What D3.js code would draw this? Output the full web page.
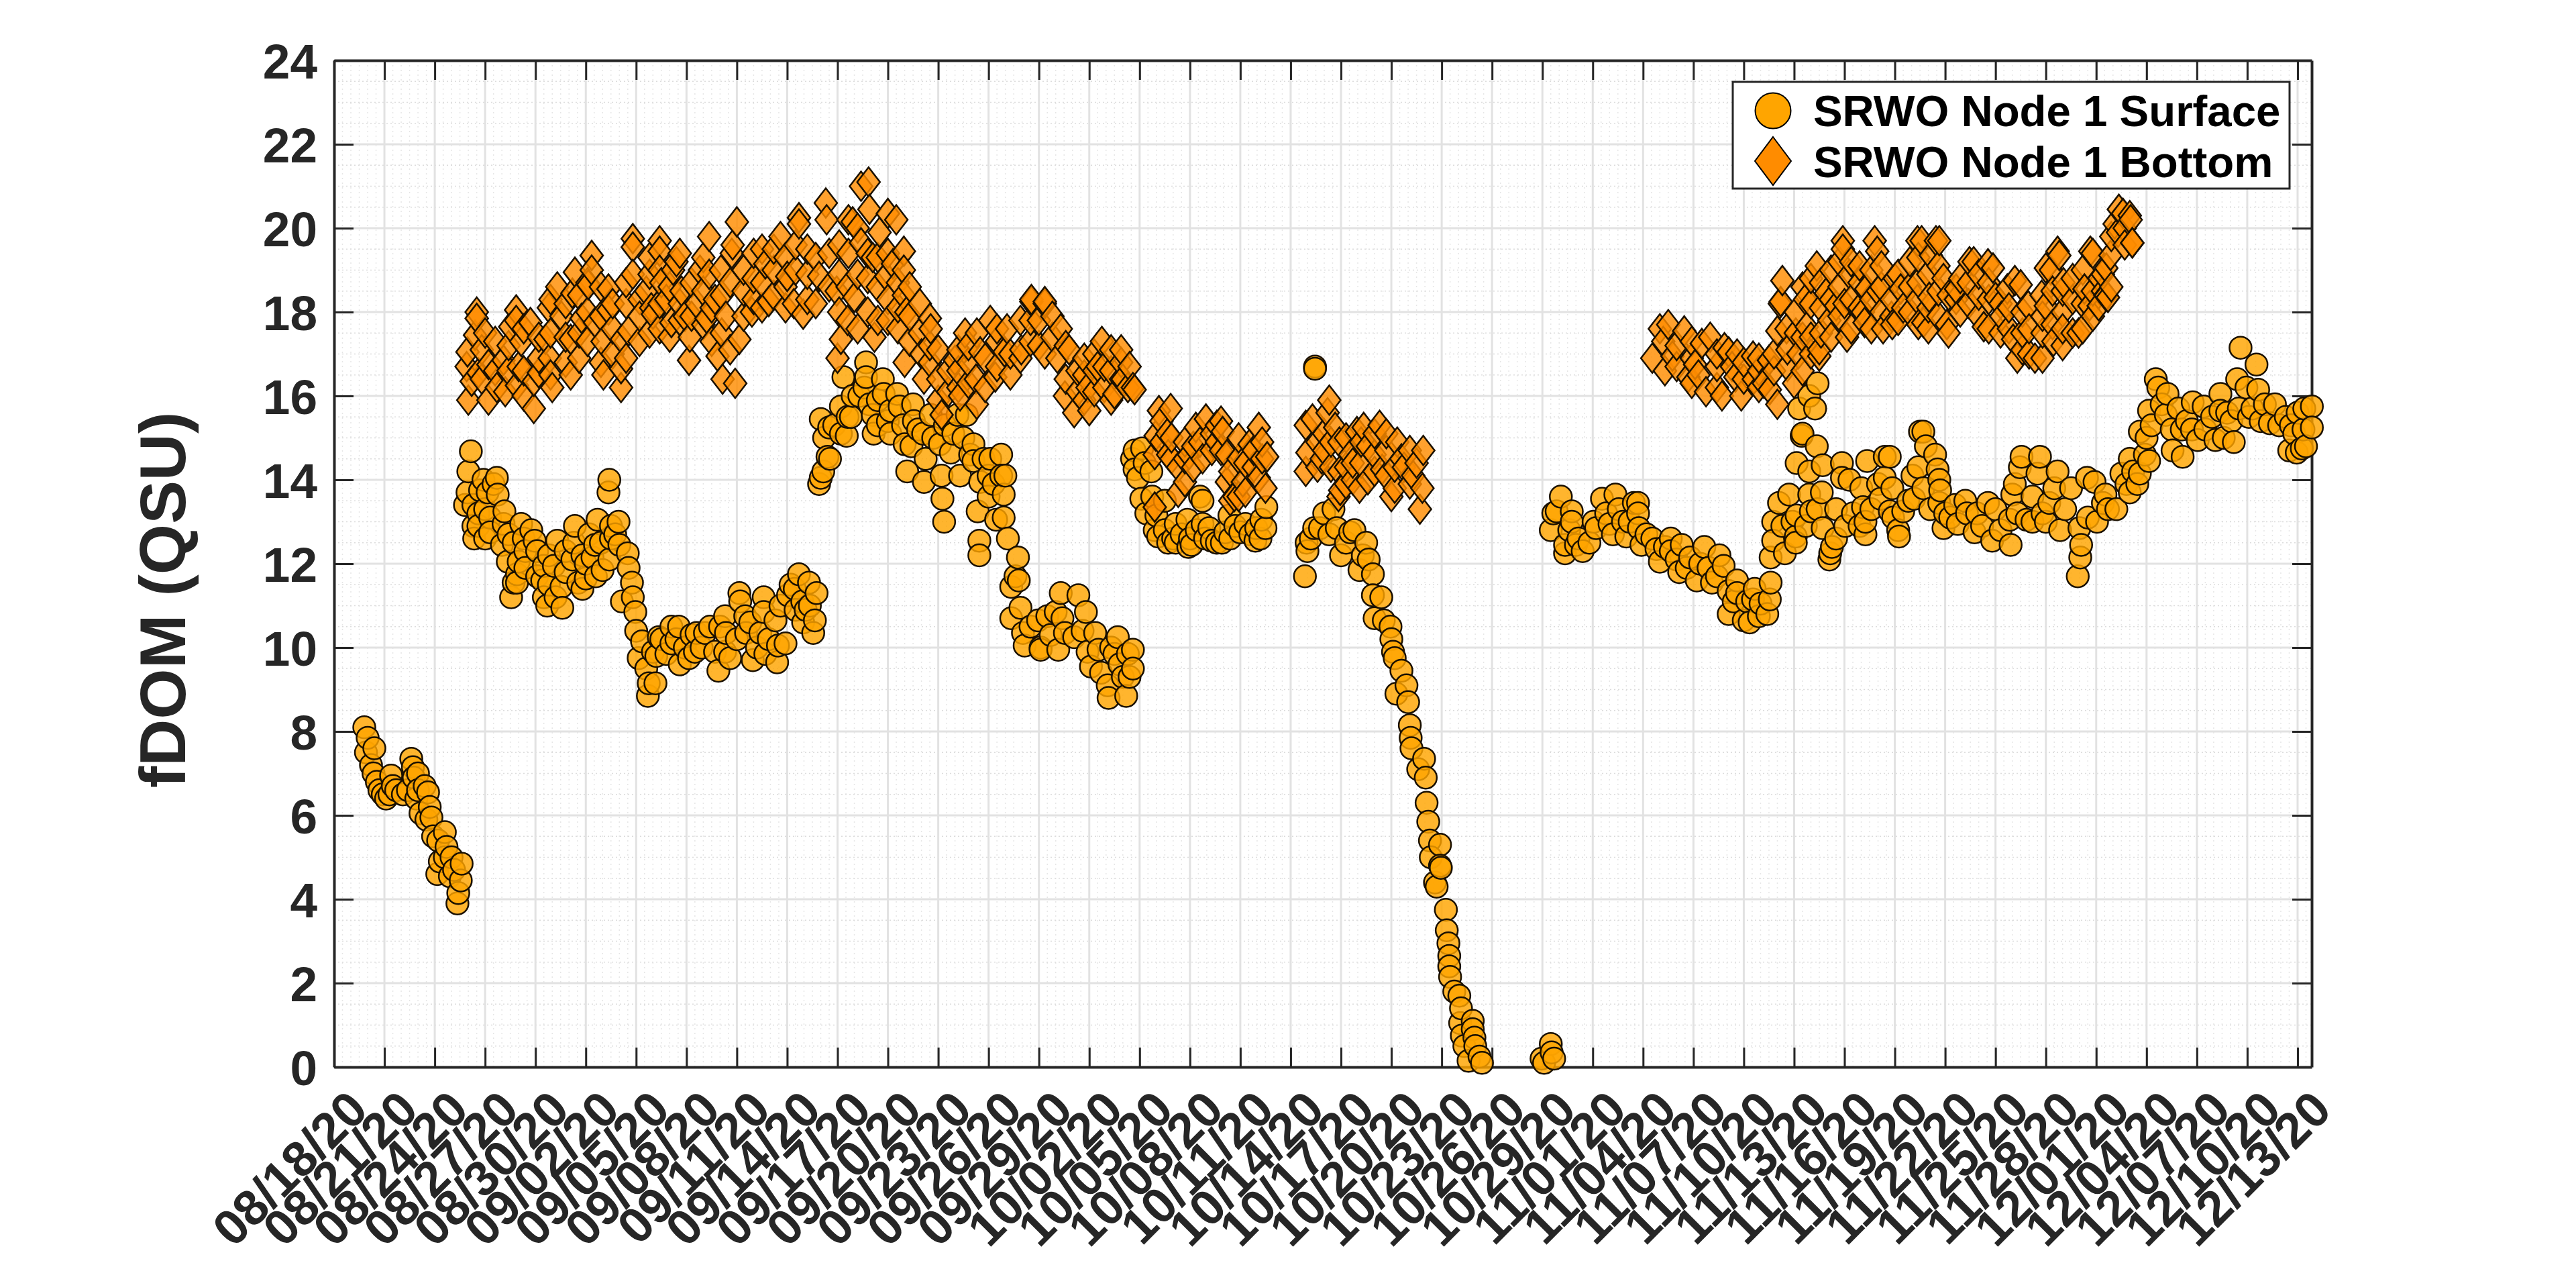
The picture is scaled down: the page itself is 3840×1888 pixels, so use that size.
<!DOCTYPE html>
<html>
<head>
<meta charset="utf-8">
<script src="https://cdn.jsdelivr.net/npm/d3@7"></script>
<style>
  html, body { margin: 0; padding: 0; background: #fff; }
  svg { display: block; }
  text { font-family: "Liberation Sans", Arial, sans-serif; font-weight: bold; }
</style>
</head>
<body>
<svg id="chart" width="3840" height="1888"></svg>
<script>
// x tick labels, one every 3 days starting at 08/18/20
const tick_labels = ["08/18/20","08/21/20","08/24/20","08/27/20","08/30/20","09/02/20","09/05/20","09/08/20",
  "09/11/20","09/14/20","09/17/20","09/20/20","09/23/20","09/26/20","09/29/20","10/02/20","10/05/20","10/08/20",
  "10/11/20","10/14/20","10/17/20","10/20/20","10/23/20","10/26/20","10/29/20","11/01/20","11/04/20","11/07/20",
  "11/10/20","11/13/20","11/16/20","11/19/20","11/22/20","11/25/20","11/28/20","12/01/20","12/04/20","12/07/20",
  "12/10/20","12/13/20"];
const y_ticks = [0,2,4,6,8,10,12,14,16,18,20,22,24];
const series_names = ["SRWO Node 1 Surface", "SRWO Node 1 Bottom"];

// [days since 08/18/20, fDOM]
const surface = [
  [1.8,8.1],[2,7.85],[2.4,7.6],[1.9,7.5],[2.2,7.2],[2.35,7],[2.55,6.8],[2.7,6.6],[3.1,6.4],[3.4,6.95],[3.5,6.7],[4.1,6.5],
  [4.6,7.35],[4.7,7.15],[4.75,6.9],[4.9,6.4],[5.15,6.05],[5.6,6.55],[5.7,6.2],[5.8,5.95],[5.9,5.5],[6.6,5.6],[6.7,5.25],
  [6.6,5],[6.15,4.6],[6.9,4.55],[7.6,4.85],[7.55,4.45],[7.4,4.15],[7.35,3.9],
  [2.9,6.5],[3.3,6.5],[3.7,6.6],[4.4,6.6],[5,7],[5,6.6],[5.4,6.7],[5.5,5.9],[6.2,5.4],[6.3,4.9],[7,5],[7.15,4.7],
  [8.15,14.68],[8,14.2],[7.95,13.7],[7.8,13.4],[8.3,13.4],[8.3,12.9],[8.35,12.6],[8.9,14],[8.7,13.75],[9,12.6],[9.15,13.7],
  [9,13.3],[9.7,14.05],[9.75,13.65],[10.15,13.25],[10.1,12.95],[10,12.45],[10.35,12.05],[11,12.05],[11.15,12.95],[11.3,12.6],
  [10.9,11.75],[10.9,11.55],[10.55,11.2],[11.75,12.8],[11.95,12.55],[12.1,12.3],[12.5,11.95],[12.4,11.6],[12.5,11.2],[12.7,11],
  [13.6,10.95],[13.3,12.55],[13.1,11.95],[13.55,11.45],[14.35,12.9],[14.3,12.5],[14.2,12.1],[14.55,11.55],[15,11.65],[15.7,13.05],
  [15.55,12.45],[15.4,12.15],[15,12],[16.4,14],[16.35,13.7],[16,11.85],[16.95,13],[16.75,12.7],[17,12.45],[16.4,12.1],[17.5,12.25],
  [17.55,11.9],[17.15,11.1],[17.75,11.55],[17.8,11.2],[17.95,10.85],[18,10.4],[18.35,10.15],[18.15,9.75],[18.6,9.5],[18.75,9.15],
  [18.7,8.85],[19.15,9.15],[19.35,10.25],[19.2,9.8],[19.8,9.85],[20.55,10.5],[20.4,10.2],[20.6,9.6],[21.15,9.75],[21.6,10.35],
  [8.6,13.2],[8.6,12.9],[9.3,13.1],[9.3,12.75],[9.5,13.9],[10.4,12.7],[10.7,11.55],[10.7,12.5],[11.4,12.3],[11.4,11.9],[12.1,11.7],
  [12.8,11.5],[12.8,12.2],[13.2,11.2],[13.8,11.8],[13.8,12.3],[14.8,12.2],[14.8,11.4],[15.2,12.7],[15.6,11.7],[15.9,12.5],[16.5,12.6],[16.5,12.9],
  [19,9.9],[19.5,10.2],[20.1,10.1],[20.1,10.5],[20.9,10],[21.3,10.3],[22.7,9.9],[23.6,9.75],[24,10.2],[24.8,10.6],[25.9,10.2],[26.9,10.1],
  [27.5,10.9],[27.9,11.1],[28.1,10.9],
  [21.9,10],[21.5,9.9],[22.1,10.35],[22.4,10.5],[22.9,9.45],[23.3,9.9],[23,10.5],[23.35,10.35],[23.3,10.75],[24.15,11.3],[24.2,11.1],
  [24.5,10.75],[24.55,10.35],[24.95,9.7],[25.2,10],[25.6,11.2],[25.6,10.85],[25.4,10.35],[25.7,9.85],[26.4,9.65],[26.45,10.05],
  [26.3,10.65],[26.6,11],[27.2,11.5],[27.05,11.25],[27.7,11.75],[27.45,11.4],[28.3,11.55],[28.75,11.3],[28.35,11],[28.65,10.65],
  [28.55,10.35],[27.95,10.6],
  [29,14.05],[28.9,13.9],[29.15,14.2],[29.2,15],[29,15.45],[29.4,14.55],[29.55,14.5],[29.5,15.25],[30.2,15.1],[30.55,15.05],[30.6,15.5],
  [30.2,15.75],[30.35,16.45],[30.9,16],[31.7,16.8],[31.7,16.45],[31.6,16.2],[32.1,15.55],[32.15,15.1],[32.7,16.4],[32.75,16.05],
  [33.15,15.65],[33.15,15.1],[33.55,16.05],[33.7,15.75],[34,14.85],[34.15,14.2],[34.5,15.8],[34.55,15.4],[35.1,15.1],[35.25,14.5],
  [35.15,13.95],[35.55,15.55],[36.2,14.1],[36.25,13.55],[36.35,13],[36.1,14.85],[36.75,14.65],[37.15,15.55],[37.7,15.55],[38.1,14.85],
  [37.3,14.1],[38.1,14.45],[38.5,13.95],[38.35,13.25],[38.45,12.55],[38.45,12.2],[39,14.1],[39.75,14.6],[39.75,14.1],[39.9,13.65],
  [39,13.6],[39.9,13.1],[39.45,13.05],[40.15,12.6],[40.75,12.15],[40.6,11.7],[40.8,11.6],[40.35,11.45],[40.9,10.95],[40.35,10.7],
  [41.05,10.35],[41.15,10.05],[41.95,10.65],[42.1,10],[43.3,11.3],[43,10.85],[42.5,10.75],[42.1,9.95],[43.15,9.95],[43.55,10.35],
  [44.35,11.25],[44.8,10.85],[44.1,10.25],[45.1,9.55],[45.35,10.35],[45.55,9.95],[46.1,9.1],[46.15,8.8],[46.7,10.25],[46.5,9.85],
  [47,9.3],[47.2,8.85],[47.6,9.95],[47.6,9.5],[47.3,9.85],
  [29.8,15.3],[30.8,15.5],[31.3,16],[31.9,15.8],[32.4,15.3],[32.4,15.9],[33,15.4],[33.9,15.3],[34.4,14.8],[34.8,15.2],[35.7,15],[36.4,15.3],
  [36.9,15.1],[37.5,15],[37.9,14.6],[38.7,14.5],[39.3,13.9],[39.1,14.5],[40,14.1],[41.5,10.5],[42.7,10.3],[43.4,10.7],[44.6,10.4],[44.9,9.9],
  [45.7,9.4],[46.3,10],[46.8,9.6],[47.4,9.3],
  [47.7,14.7],[47.55,14.5],[47.7,14.25],[48.15,14.75],[48.3,14.4],[48.7,14.2],[48.1,13.55],[47.9,14.05],[48.75,13.6],[49.1,12.65],
  [49,13.15],[49.5,13.5],[50,12.6],[50.15,12.5],[50.15,12.95],[51,12.6],[51.1,12.45],[51.6,13.6],[51.75,13.5],[50.85,13.05],[51.75,12.95],
  [52.3,12.55],[52.9,12.5],[52.15,12.85],[53.1,12.75],[53.35,13.15],[54,12.75],[54.3,12.95],[54.9,12.55],[54.95,12.85],[55.5,12.85],
  [55.55,13.35],[55.25,13.05],
  [48.4,13.2],[48.9,12.8],[49.5,12.8],[49.7,12.5],[50.5,12.7],[50.9,12.4],[51.4,12.8],[51.9,12.6],[52.6,12.5],[53.4,12.6],[53.7,12.9],[54.6,12.7],[55.2,12.6],
  [57.85,11.7],[57.95,12.5],[58,12.3],[58.4,12.85],[58.45,16.7],[58.45,16.65],[58.75,12.85],[59,13.2],[59.55,13.3],[59.75,12.85],[60,12.2],
  [60.55,12.75],[60.8,12.8],[61.1,11.85],[61.5,12.5],[61.65,12.1],[61.9,11.75],[61.9,11.25],[62.4,11.2],[62,10.7],[62.55,10.65],
  [58.2,12.6],[59.3,12.7],[60.3,12.5],[61.3,12.2],
  [62.95,10.5],[63,10.2],[63.1,9.9],[63.2,9.75],[63.6,9.45],[63.9,9.1],[63.3,8.9],[64,8.7],[64.1,8.15],[64.15,7.85],[64.2,7.6],[64.95,7.35],
  [64.6,7.1],[65.05,6.9],[65.1,6.3],[65.2,5.85],[65.3,5.4],[65.9,5.3],[65.35,5],[65.9,4.8],[65.95,4.75],[65.6,4.4],[65.7,4.3],
  [66.25,3.75],[66.3,3.26],[66.4,2.95],[66.45,2.65],[66.45,2.4],[66.5,2.15],[66.75,1.8],[67.05,1.7],[67.15,1.4],[67.1,1.05],[67.85,1.1],
  [67.85,0.9],[67.2,0.75],[67.35,0.5],[67.95,0.7],[68,0.5],[67.6,0.15],[68.25,0.25],[68.4,0.1],
  [72.1,0.1],[71.95,0.2],[72.5,0.55],[72.55,0.35],[72.7,0.2],
  [73.1,13.6],[72.85,13.25],[72.5,12.8],[72.65,13.2],[73.35,12.25],[73.35,12.45],[73.75,13.25],[73.75,13],[74,12.45],[74.15,12.6],
  [74.8,12.5],[75.05,13],[75.55,13.55],[75.2,12.85],[76,12.95],[76.35,13.65],[76.55,13.3],[77,12.65],[77.45,13.45],[77.7,13.45],
  [77.7,13.2],[77.75,12.85],[77.9,12.45],[78.55,12.6],[79,12.05],[79.65,12.6],[79.65,12.3],[80.15,11.8],[80.3,12.45],[81.2,11.6],
  [80.8,12.15],[81.65,12.4],[81.9,11.9],[82.1,11.55],[82.55,12.2],[82.8,11.95],[83.1,11.35],[83.1,10.8],[83.6,11.6],[83.6,11.3],[84,10.65],
  [84.65,11.4],[84.55,11.15],[84.35,10.6],[85.6,11.55],[85.55,11.15],[85.4,10.8],[84.9,10.75],[85.6,12.15],[85.75,13],[85.75,12.55],
  [73.6,12.8],[74.4,12.3],[75.8,13.2],[76.2,12.7],[76.8,13],[77.2,13],[78.2,12.7],[78.8,12.35],[79.3,12.4],[80,12.1],[80.6,11.9],[81.4,12],
  [82.4,11.7],[83.4,11.1],[84.2,11.1],[85,11.05],
  [86.1,13.45],[86.7,13.65],[87.15,13.15],[87.1,12.65],[86.45,12.25],[87.1,12.5],[87.5,15.1],[87.45,15.05],[88.35,14.8],[87.15,14.4],
  [87.9,14.2],[88.7,14.35],[87.9,13.65],[88.65,13.7],[88,13.25],[89.1,12.1],[89.25,12.4],[88.7,12.85],[89.15,12.25],[89.85,14.4],
  [89.85,14.05],[90.05,12.9],[89.5,13.3],[90.3,14],[91.25,12.7],[91.1,13.35],[91.25,13],[91.35,14.45],[92.4,14.55],[92.4,14.05],
  [92.15,13.55],[92.7,13.25],[91,13.8],[87.3,15.7],[88.25,15.7],[87.9,16],[88.4,16.3],
  [92.7,14.55],[93.2,12.8],[93.25,12.65],[92.85,13.8],[93.5,13.25],[94.05,14.1],[94.15,13.55],[94.5,15.15],[94.7,15.15],[94.85,14.8],
  [95.4,14.6],[95.55,14.25],[95.65,14],[94.7,13.8],[95.7,13.75],[95.65,13.45],[95.9,12.85],[96.75,12.95],[97.2,13.5],[97.3,13.2],
  [97.75,12.75],[98.55,13.45],[98.8,12.55],[99,13.3],[99.85,13.05],[99.9,12.45],[100,13.65],[100.55,14.55],[100.45,14.3],[100.15,13.9],
  [100.85,13.05],[101.65,14.55],[101.5,14.15],[101.8,13.2],[102.7,14.2],[102.5,13.8],[102.2,13.45],[103.15,13.3],[102.85,12.8],
  [104.1,12.45],[104.05,12.15],[103.9,11.7],[104,12.85],[105.05,13],[104.45,14.05],[104.9,13.95],[105.4,13.45],[105.55,13.65],
  [86.3,12.9],[86.9,13],[87.7,12.9],[88.4,13.3],[89.5,12.6],[90.5,13.2],[90.9,12.9],[91.6,13.3],[92,13.9],[92.9,13.1],[93.8,13.5],[94.4,14.3],
  [95.1,13.3],[96.3,13.1],[96,13.2],[96.6,13.4],[97.9,13.2],[98.2,12.9],[99.3,12.8],[100.3,13.2],[101.2,13.6],[101.2,13],[102,13],[103.5,13.8],
  [104.5,13.1],[105.7,13.3],[106.2,13.3],[106.8,13.9],[107.2,14.2],[107.9,14.6],[108.3,15.3],[108.9,15.8],[109.5,15.2],[109.9,15.7],[110.4,15.4],
  [110.7,15.2],[111.5,15.2],[111.9,15.5],[112.6,15],[112.8,15.6],[113.5,15.7],[114.3,15.7],[114.8,15.4],[115.9,15.3],[116.6,15.3],[117,15.6],
  [107,13.7],[106.5,14.15],[107.45,13.9],[107.6,14.15],[107,14.5],[108.15,14.45],[108,15],[107.6,15.15],[108.15,15.65],[108.55,16.4],
  [108.7,16.2],[109.25,16.05],[109.15,15.55],[110.1,15.2],[109.55,14.7],[110.15,14.55],[110.75,15.85],[111.4,15.75],[111.05,14.95],
  [112.1,14.95],[112.4,16.05],[112.4,15.65],[113.2,14.9],[113.05,15.4],[113.6,17.15],[113.4,16.4],[114.55,16.75],[114.65,16.15],
  [113.95,16.2],[114.1,15.5],[115.05,15.8],[115.65,15.8],[115.35,15.35],[116.3,15.5],[116.95,14.65],[116.8,15.1],[116.5,14.7],
  [117.4,15.7],[117.35,15.2],[117.25,14.75],[117.85,15.75],[117.85,15.25],[117.5,14.8]
];

const bottom = [
  [8.5,18],[8.5,17.85],[8.4,17.45],[9,17.5],[7.95,17.05],[7.9,16.7],[8,15.9],[8.2,16.35],[9.2,15.9],[8.6,16.55],[9.2,16.75],[9.7,16.2],
  [10.1,16.85],[10.85,18.05],[10.85,17.8],[10.5,17.65],[11.7,17.75],[11.15,17.3],[11,16.7],[10.9,16.25],[10.2,16.1],[11.9,15.7],
  [11.9,16.35],[12.2,16.55],[13,16.2],[12.85,16.9],[12.6,17.35],[14.1,16.5],[14.1,17.35],[12.8,18.1],[13.3,18.6],[14.2,18.45],
  [13.55,17.9],[14.35,18.95],[15.35,19.35],[15.35,19],[15.15,18.65],[14.75,17.85],[16.35,18.55],[15.55,17.75],[16,17.3],[16.05,16.5],
  [17.1,16.2],[17.1,16.65],[17.15,17.35],[16.35,18.05],[17.55,17.55],[17.8,19.75],[17.8,19.55],[17.8,18.9],[18.6,18.5],[19.4,19.7],
  [19.4,19.45],[19,17.95],[20.2,19],[20.1,17.75],[21.15,16.85],[21.2,17.4],[20.4,19.2],[18.2,18.3],[18.9,18.1],[19.8,18.3],[20.7,18.5],
  [21.6,18.2],[21.8,19],[22.7,18.3],[19.5,18.7],[20.9,17.9],
  [8.8,16.4],[8.8,17.1],[9.6,16.6],[9.6,17.3],[10.4,16.6],[10.4,17.2],[11.3,16],[11.3,16.6],[11.3,17.6],[12.2,16.9],[12.2,17.4],[12.9,16.5],[12.9,17.5],[12.9,18.3],
  [13.8,16.8],[13.8,17.4],[13.8,18.2],[14.6,16.9],[14.6,17.5],[14.6,18.4],[15.1,17.3],[15.1,18],[15.1,18.7],[15.9,16.8],[15.9,17.9],[15.9,18.6],[16.6,17],[16.6,17.6],
  [16.6,18.2],[17.4,16.9],[17.4,18.2],[17.4,18.7],[18.2,17.3],[18.2,17.9],[18.8,17.5],[18.8,18.9],[18.8,19.3],[19.4,17.6],[19.4,18.2],[19.4,19],[20,17.4],[20,18.6],
  [20.6,17.8],[20.6,18.2],[20.6,19.4],[21.3,17.9],[21.3,18.7],[22,17.7],[22,18.5],[22,19.3],[22.5,17.3],[22.5,18.1],[23.1,17.5],[23.1,18.4],[23.6,17.1],[23.6,18.7],
  [24.4,17.9],[24.4,18.5],[24.4,19],[25,18.3],[25,18.8],[25,19.4],[25.5,18.1],[25.5,18.7],[25.5,19.5],[26.2,18.4],[26.2,19],[26.2,19.5],[26.9,18.1],[26.9,18.6],
  [27.5,19],[27.5,19.6],[28.2,18.3],[28.2,18.9],[28.7,18.2],[28.7,19.3],[29.5,18.6],[29.5,19.4],[30.1,18],[30.1,18.9],[30.1,19.6],[30.6,17.8],[30.6,18.6],
  [31.2,17.6],[31.2,18.9],[31.2,20],[31.8,18],[31.8,18.8],[31.8,19.4],[32.4,17.8],[32.4,18.6],[32.4,19.3],[33,18.3],[33,19.4],[33.6,17.6],[33.6,18.1],[33.6,18.7],
  [34.3,17.3],[34.3,17.9],[34.3,18.6],[34.9,17.5],[34.9,18.2],[35.5,16.8],[35.5,17.2],[36,15.9],[36,16.4],[36,17.1],[36.6,16.1],[36.6,16.6],[37.2,16.2],[37.2,16.6],
  [37.2,17.1],[37.8,16.3],[37.8,16.8],[37.8,17.2],[38.3,15.8],[38.3,17.5],[38.8,16.2],[38.8,16.9],[39.5,16.7],[39.5,17.3],[39.5,17.6],[40.3,16.5],[40.3,17],
  [40.9,16.9],[40.9,17.8],[41.5,17.3],[41.5,17.8],[42,17.2],[42,17.8],[42.8,17.4],[42.8,17.9],[43.1,16.9],[43.6,16.4],[43.6,17.2],[44.3,16.1],[44.3,16.6],
  [44.7,15.9],[44.7,16.5],[44.7,16.9],[45.3,16.1],[45.3,16.6],[45.3,17],[45.9,16.2],[45.9,16.7],[46.3,15.9],[46.3,16.6],[46.3,17.1],[46.9,16.4],[46.9,16.8],[47.3,16.2],
  [22.35,19.8],[24,20.15],[23.75,19.6],[23.7,19.4],[23.05,19],[22.35,18.9],[23.35,17.9],[22.2,17.85],[22.85,16.95],[23.15,16.4],[23.9,16.3],
  [24.15,17.35],[24.9,18],[25.9,18.25],[25.7,19.15],[26.6,19.8],[27,18.85],[27.7,20.25],[27.7,20.1],[26.9,19.3],[27.4,18.2],[27.95,17.95],
  [29.3,20.6],[29.35,20.2],[28.2,19.5],[28.9,18.85],[29.95,18.5],[30.65,20.2],[30.9,20.15],[31.85,21.1],[31.4,21],[31.9,20.45],[33,20.35],
  [33.5,20.2],[31.4,19.65],[30.65,19.4],[32.5,19.9],[33.95,19.45],[33.95,19],[33.3,19.15],[32.1,19.3],[32.9,18.85],[31,18.35],[30.2,17.35],
  [30,16.9],[32.2,17.4],[33,17.8],[33.95,18.4],[34.1,18],[35.5,17.85],[35.55,17.6],[34,16.8],[35,17],[35.15,16.4],[37.6,17.5],[37,16.85],
  [36.2,15.55],[39.1,17.8],[38.5,17.05],[38.25,16.4],[37.3,16],[40.1,17.6],[39.95,17.05],[39.4,16.45],[41.55,18.25],[40.95,17.1],[42.35,18.2],[42.35,17],
  [42.35,18.25],[41.55,18.3],[43.3,17.6],[43.8,17.1],[43.55,16],[44.1,15.6],[45,15.65],[44.9,16.2],[45.75,17.3],[45.5,16.7],[46.5,16.05],
  [46.9,17.1],[47.4,16.7],[47.7,16.15],[47,16.4],[47.6,16.2],
  [49.85,15.7],[49.15,15.65],[49.65,15.1],[48.95,15.05],[49.7,14.6],[50.7,13.95],[48.9,13.35],[50.3,13.7],[51.35,15.25],[51.95,15.45],
  [52.85,15.4],[52.95,15.15],[50.95,14.6],[51.75,14.5],[52.85,14.7],[55.1,15.25],[54.55,14.85],[55.6,14.55],[53.65,13.6],[53.2,13.95],
  [54.15,13.95],[55.1,14.05],
  [48.9,14.6],[49.3,14.9],[49.3,15.4],[49.9,14.5],[49.9,15],[50.3,14.3],[50.7,14.5],[50.7,14.9],[51.2,14.3],[51.2,14.8],[51.6,14.9],[52.3,14.7],[52.3,15.1],[52.6,14.9],
  [52.6,15.3],[53.2,14.6],[53.4,13.5],[53.4,14.2],[53.9,13.6],[53.9,14.5],[53.9,15],[54.3,13.7],[54.3,14.4],[54.8,14.3],[54.8,14.7],[55.3,14.5],[55.3,14.9],[55.5,13.8],
  [57.9,15.3],[58,14.65],[57.9,14.2],[58.3,15.45],[59.3,15.9],[59.2,15.6],[59.65,15.25],[58.85,14.5],[59.95,13.75],[59.85,13.6],[60.55,14.6],
  [60.95,15.15],[61.35,15.25],[61.1,13.8],[62.3,15.3],[62.45,14.25],[63,13.6],[63.35,14.9],[64.9,14.7],[63.75,14.3],[64.85,13.8],[64.7,13.3],[64.3,14.1],
  [58.6,14.9],[58.6,14.3],[59,15.1],[59,14.7],[59.4,14.3],[59.4,14.9],[59.9,14.2],[59.9,14.9],[60.3,13.9],[60.3,14.3],[60.3,15],[60.7,14],[60.7,14.4],[61.2,14.4],[61.2,14.9],
  [61.6,14],[61.6,14.8],[62,14.2],[62,14.6],[62,15.1],[62.7,14.1],[62.7,14.7],[62.7,15.1],[63.2,13.8],[63.2,14.3],[63.6,14.5],[64.1,14.7],[64.1,13.9],[64.5,14.4],
  [78.55,16.9],[79,17.6],[79.5,17.7],[79.2,17.3],[79.75,16.95],[80.45,17.55],[80.7,16.45],[81.5,17.25],[82,17.4],[81.1,16.75],[81.75,16.1],
  [82.7,16],[82.85,17.15],[83.1,17.05],[83.6,17],[83.5,16.45],[83.85,16],[84.55,16.95],[84.6,16.4],[85.5,16.85],[86,15.8],[85.55,16.15],
  [79.3,16.6],[80,16.7],[80,17.2],[80.9,16.3],[80.9,16.9],[80.9,17.3],[81.3,16.5],[82.4,16.2],[82.4,16.7],[82.4,17],[83.3,16.7],[84,16.4],[84,16.8],[84.9,16.2],[84.9,16.6],
  [84.9,16.9],[85.2,16.3],[85.8,16.6],[85.8,17],
  [86.15,18.2],[86,17.55],[86.55,17.6],[87,16.3],[87.25,17],[88.5,16.95],[88.5,17.1],[87.65,18.3],[87.75,17.65],[89.1,17.8],[90.15,17.4],
  [89.5,18.15],[91.1,18],[91.2,17.75],[92.3,17.6],
  [86.3,18.75],[86.2,18.25],[88.35,19.1],[89.9,19.7],[89.9,19.5],[91.8,19.7],[91.95,19.45],[94.6,19.7],[95.65,19.7],[95.15,19.35],[97.7,19.2],
  [98.85,19.05],[100.5,18.65],[102.8,19.35],[102.3,19],[104.8,19.4],[106.6,20.35],[107,20.3],[107.15,19.65],[106.1,20.1],[105.7,18.35],
  [105.6,19.05],[90.3,18.9],[91.3,18.55],[88.9,18.45],[93.35,18.55],[94.35,18.3],[96.65,18.3],[95.9,18.8],[99,18.35],[99.7,18.55],[101.75,18.4],
  [103.05,18.7],[104.3,18.55],[105.2,18.8],[105.6,18.4],
  [94.35,19.7],[95.45,19.7],[97.45,19.2],[98.55,19.15],[100.15,18.75],[102.7,19.45],[102,19.05],[104.65,19.45],[106.35,20.45],[107.05,20.2],
  [107.15,19.65],[105.55,18.4],[105.15,18.15],[103.95,17.5],[102.45,17.3],[101.35,16.9],[100.3,16.9],[100.05,17.35],[98.3,17.65],[96.1,17.7],
  [94.7,17.75],[92.85,17.7],[95.05,18.35],[96.65,18.55],[99.35,17.9],[100.95,18.15],[103,18],[104.6,18.15],[105.85,19.35],[102,18.15],
  [93,18.8],[93.5,18.1],[92,18.5],[90,18.2],
  [86.6,16.7],[86.6,17.1],[87.1,17.5],[87.1,18],[87.5,16.6],[87.5,17.4],[87.5,18.6],[88,17],[88,17.4],[88,18.2],[88,18.8],[88.6,17.5],[88.6,18.1],[88.6,18.7],[89.2,17.4],
  [89.2,18.3],[89.2,19],[89.7,17.9],[89.7,18.6],[89.7,19.2],[90.4,17.6],[90.4,18.3],[90.4,19.2],[90.9,18.1],[90.9,18.7],[90.9,19.1],[91.6,17.6],[91.6,18.3],[91.6,19],
  [92.2,18],[92.2,18.6],[92.2,19.1],[92.8,17.9],[92.8,18.3],[93.2,17.8],[93.2,18.9],[93.9,18],[93.9,18.6],[93.9,19.2],[94.4,17.7],[94.4,18.7],[94.4,19.3],[95,17.6],[95,18.1],
  [95,18.9],[95.6,17.9],[95.6,18.5],[95.6,19.1],[96.2,17.5],[96.2,18.4],[96.9,18],[96.9,18.8],[97.4,18.2],[97.4,18.7],[98,17.9],[98,18.4],[98,18.9],[98.6,17.6],[98.6,18.3],
  [98.6,18.7],[99.3,17.5],[99.3,18.2],[99.8,17.6],[99.8,18.1],[100.6,17.1],[100.6,17.5],[100.6,18],[101,17],[101,17.6],[101.8,16.9],[101.8,17.5],[101.8,17.9],[102.4,17.7],
  [102.4,18.5],[103,17.2],[103,17.6],[103,18.5],[103.6,17.5],[103.6,18.3],[103.6,18.8],[104.2,17.6],[104.2,18.2],[104.2,19],[104.8,17.9],[104.8,18.5],[105.4,18.5],
  [105.4,18.9],[105.9,18.6],[105.9,19.8],[106.3,19.9],[106.7,20],[106.7,19.6]
];

// the reference draws points in time order, later ones on top
surface.sort((a, b) => a[0] - b[0]);
bottom.sort((a, b) => a[0] - b[0]);

const svg = d3.select("#chart");

const left = 498, right = 3446, top_y = 90, bottom_y = 1590;
const x = d3.scaleLinear().domain([0, 117.84]).range([left, right]);
const y = d3.scaleLinear().domain([0, 24]).range([bottom_y, top_y]);

const tick_days = tick_labels.map((d, i) => i * 3);
const dark = "#262626";

// minor grid, dotted every half day / half unit
const minor_x = d3.range(0, 117.84, 0.5).filter(d => d % 3 !== 0);
const minor_y = d3.range(0, 24, 0.5).filter(d => d % 2 !== 0);
svg.append("g").selectAll("line").data(minor_x).join("line")
    .attr("x1", d => x(d)).attr("x2", d => x(d)).attr("y1", top_y).attr("y2", bottom_y)
    .attr("stroke", "#e6e6e6").attr("stroke-width", 1.5).attr("stroke-dasharray", "2 5");
svg.append("g").selectAll("line").data(minor_y).join("line")
    .attr("x1", left).attr("x2", right).attr("y1", d => y(d)).attr("y2", d => y(d))
    .attr("stroke", "#dcdcdc").attr("stroke-width", 1.5).attr("stroke-dasharray", "2 4");

// major grid
svg.append("g").selectAll("line").data(tick_days.slice(1)).join("line")
    .attr("x1", d => x(d)).attr("x2", d => x(d)).attr("y1", top_y).attr("y2", bottom_y)
    .attr("stroke", "#e2e2e2").attr("stroke-width", 3);
svg.append("g").selectAll("line").data(y_ticks.slice(1, -1)).join("line")
    .attr("x1", left).attr("x2", right).attr("y1", d => y(d)).attr("y2", d => y(d))
    .attr("stroke", "#e2e2e2").attr("stroke-width", 3);

// axes, ticks point inward on all four sides
const tick_len = 29;
const style_axis = (g) => {
    g.selectAll(".domain").attr("stroke", dark).attr("stroke-width", 4);
    g.selectAll(".tick line").attr("stroke", dark).attr("stroke-width", 3);
};
svg.append("g").attr("transform", `translate(0,${bottom_y})`)
    .call(d3.axisBottom(x).tickValues(tick_days).tickSizeInner(-tick_len).tickSizeOuter(0).tickFormat((d, i) => tick_labels[i]))
    .call(style_axis)
    .call(g => g.selectAll(".tick text")
        .attr("transform", "translate(35,49) rotate(-45)")
        .attr("text-anchor", "end").attr("x", 0).attr("y", 0).attr("dy", "0.35em")
        .attr("fill", dark).attr("font-size", 74).attr("font-family", null));
svg.append("g").attr("transform", `translate(0,${top_y})`)
    .call(d3.axisTop(x).tickValues(tick_days).tickSizeInner(-tick_len).tickSizeOuter(0).tickFormat(""))
    .call(style_axis);
svg.append("g").attr("transform", `translate(${left},0)`)
    .call(d3.axisLeft(y).tickValues(y_ticks).tickSizeInner(-tick_len).tickSizeOuter(0))
    .call(style_axis)
    .call(g => g.selectAll(".tick text")
        .attr("x", -25).attr("dy", "0.36em")
        .attr("fill", dark).attr("font-size", 73).attr("font-family", null));
svg.append("g").attr("transform", `translate(${right},0)`)
    .call(d3.axisRight(y).tickValues(y_ticks).tickSizeInner(-tick_len).tickSizeOuter(0).tickFormat(""))
    .call(style_axis);

svg.append("text")
    .attr("transform", "translate(276,894) rotate(-90)")
    .attr("text-anchor", "middle")
    .attr("fill", dark).attr("font-size", 97)
    .text("fDOM (QSU)");

// markers
const diamond_path = (w, h) => `M0,${-h / 2}L${w / 2},0L0,${h / 2}L${-w / 2},0Z`;
const surface_color = "#ffa500", bottom_color = "#ff8c00";

svg.append("g").selectAll("circle").data(surface).join("circle")
    .attr("cx", d => x(d[0])).attr("cy", d => y(d[1])).attr("r", 16.5)
    .attr("fill", surface_color).attr("fill-opacity", 0.82)
    .attr("stroke", "#1a1000").attr("stroke-width", 2.5);

svg.append("g").selectAll("path").data(bottom).join("path")
    .attr("transform", d => `translate(${x(d[0])},${y(d[1])})`)
    .attr("d", diamond_path(34, 44))
    .attr("fill", bottom_color).attr("fill-opacity", 0.82)
    .attr("stroke", "#1a1000").attr("stroke-width", 2.5);

// legend
const legend = svg.append("g");
legend.append("rect")
    .attr("x", 2583).attr("y", 122).attr("width", 830).attr("height", 159)
    .attr("fill", "#fff").attr("stroke", dark).attr("stroke-width", 3);
legend.append("circle").attr("cx", 2643).attr("cy", 165).attr("r", 26.5)
    .attr("fill", surface_color).attr("stroke", "#000").attr("stroke-width", 2);
legend.append("path").attr("transform", "translate(2643,240)").attr("d", diamond_path(54, 72))
    .attr("fill", bottom_color).attr("stroke", "#000").attr("stroke-width", 2);
legend.selectAll("text").data(series_names).join("text")
    .attr("x", 2703).attr("y", (d, i) => i === 0 ? 188 : 264)
    .attr("fill", "#000").attr("font-size", 65.4)
    .text(d => d);
</script>
</body>
</html>
